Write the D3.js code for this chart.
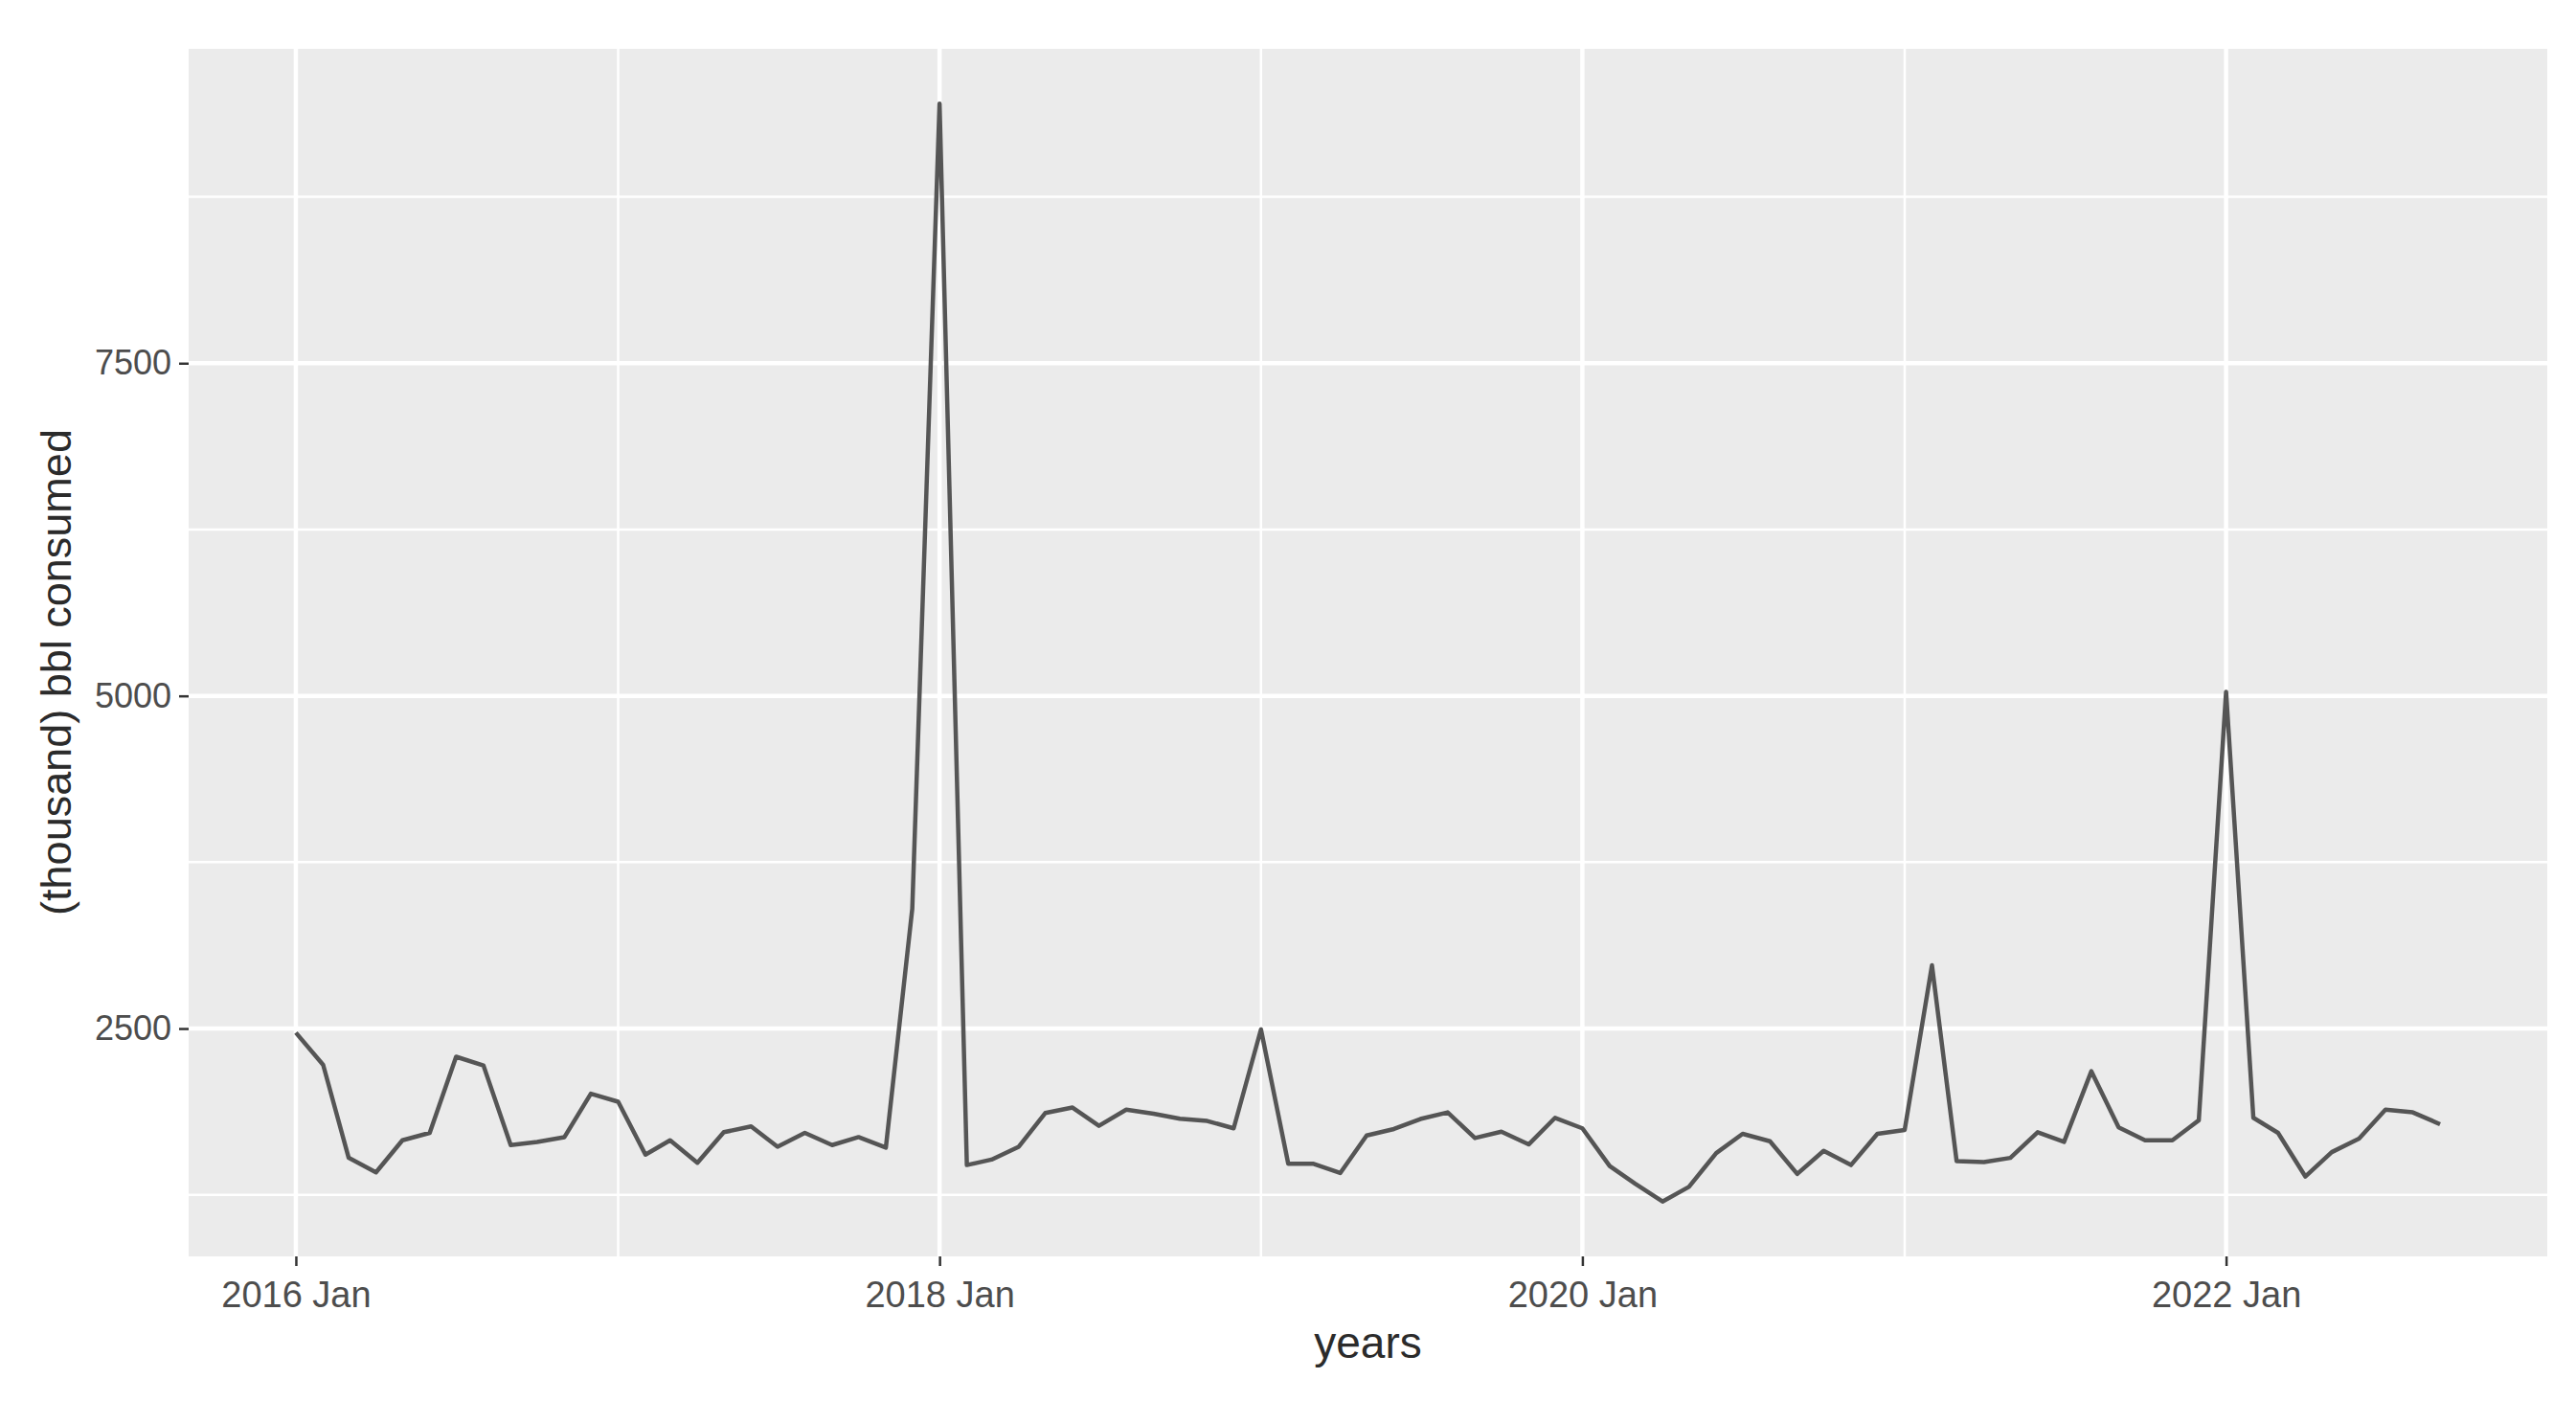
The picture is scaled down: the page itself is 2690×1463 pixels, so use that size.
<!DOCTYPE html>
<html lang="en">
<head>
<meta charset="utf-8">
<title>bbl consumed</title>
<script src="https://d3js.org/d3.v7.min.js"></script>
<style>
    body { margin: 0; background: #fff; }
    svg { display: block; }
    .tick text { font-family: "Liberation Sans", Arial, sans-serif; fill: #4d4d4d; }
    .tick line { stroke: #333; stroke-width: 2.5px; }
    .axis-title { font-family: "Liberation Sans", Arial, sans-serif; fill: #2b2b2b; }
</style>
</head>
<body>
<script>
    // monthly values (thousand bbl), Jan..Dec
    var years = [2016, 2017, 2018, 2019, 2020, 2021, 2022];
    var v2016 = [2469, 2227, 1528, 1419, 1660, 1716, 2288, 2223, 1624, 1648, 1684, 2010];
    var v2017 = [1950, 1552, 1660, 1491, 1721, 1764, 1612, 1716, 1624, 1684, 1605, 3400];
    var v2018 = [9450, 1474, 1515, 1612, 1865, 1906, 1769, 1890, 1860, 1822, 1805, 1750];
    var v2019 = [2493, 1484, 1484, 1414, 1696, 1745, 1820, 1870, 1677, 1725, 1629, 1829];
    var v2020 = [1750, 1467, 1334, 1200, 1310, 1564, 1709, 1653, 1407, 1581, 1474, 1709];
    var v2021 = [1738, 2975, 1503, 1496, 1528, 1721, 1648, 2179, 1757, 1660, 1660, 1810];
    var v2022 = [5030, 1829, 1716, 1388, 1571, 1672, 1890, 1870, 1781];

    var xTickYears = [2016, 2018, 2020, 2022];
    var xMinorYears = [2017, 2019, 2021];
    var yTicks = [2500, 5000, 7500];
    var yMinor = [1250, 3750, 6250, 8750];

    var perYear = [v2016, v2017, v2018, v2019, v2020, v2021, v2022];
    var data = [];
    perYear.forEach(function (vals, i) {
        vals.forEach(function (v, m) {
            data.push({ date: new Date(years[i], m, 1), value: v });
        });
    });

    var W = 2690, H = 1463;
    var panel = { left: 197, right: 2660, top: 51, bottom: 1312 };

    var svg = d3.select("body").append("svg")
        .attr("width", W)
        .attr("height", H);

    // ggplot-style 5% expansion
    var xExt = d3.extent(data, function (d) { return +d.date; });
    var xPad = (xExt[1] - xExt[0]) * 0.05;
    var x = d3.scaleTime()
        .domain([new Date(xExt[0] - xPad), new Date(xExt[1] + xPad)])
        .range([panel.left, panel.right]);

    var yExt = d3.extent(data, function (d) { return d.value; });
    var yPad = (yExt[1] - yExt[0]) * 0.05;
    var y = d3.scaleLinear()
        .domain([yExt[0] - yPad, yExt[1] + yPad])
        .range([panel.bottom, panel.top]);

    svg.append("rect")
        .attr("x", panel.left)
        .attr("y", panel.top)
        .attr("width", panel.right - panel.left)
        .attr("height", panel.bottom - panel.top)
        .attr("fill", "#ebebeb");

    var grid = svg.append("g");
    grid.selectAll(".ymin").data(yMinor).enter().append("line")
        .attr("x1", panel.left).attr("x2", panel.right)
        .attr("y1", d => y(d)).attr("y2", d => y(d))
        .attr("stroke", "#fff").attr("stroke-width", 2.5);
    grid.selectAll(".xmin").data(xMinorYears).enter().append("line")
        .attr("y1", panel.top).attr("y2", panel.bottom)
        .attr("x1", d => x(new Date(d, 0, 1))).attr("x2", d => x(new Date(d, 0, 1)))
        .attr("stroke", "#fff").attr("stroke-width", 2.5);
    grid.selectAll(".ymaj").data(yTicks).enter().append("line")
        .attr("x1", panel.left).attr("x2", panel.right)
        .attr("y1", d => y(d)).attr("y2", d => y(d))
        .attr("stroke", "#fff").attr("stroke-width", 4.5);
    grid.selectAll(".xmaj").data(xTickYears).enter().append("line")
        .attr("y1", panel.top).attr("y2", panel.bottom)
        .attr("x1", d => x(new Date(d, 0, 1))).attr("x2", d => x(new Date(d, 0, 1)))
        .attr("stroke", "#fff").attr("stroke-width", 4.5);

    var line = d3.line()
        .x(d => x(d.date))
        .y(d => y(d.value));

    svg.append("path")
        .datum(data)
        .attr("d", line)
        .attr("fill", "none")
        .attr("stroke", "#555")
        .attr("stroke-width", 4.5)
        .attr("stroke-linejoin", "round");

    var fmt = d3.timeFormat("%Y %b");
    var xAxis = svg.append("g")
        .attr("transform", "translate(0," + panel.bottom + ")")
        .call(d3.axisBottom(x)
            .tickValues(xTickYears.map(d => new Date(d, 0, 1)))
            .tickFormat(fmt)
            .tickSize(10)
            .tickPadding(16));
    xAxis.select(".domain").remove();
    xAxis.selectAll(".tick text").attr("font-size", 38);

    var yAxis = svg.append("g")
        .attr("transform", "translate(" + panel.left + ",0)")
        .call(d3.axisLeft(y)
            .tickValues(yTicks)
            .tickFormat(d3.format("d"))
            .tickSize(10)
            .tickPadding(8));
    yAxis.select(".domain").remove();
    yAxis.selectAll(".tick text").attr("font-size", 36);

    svg.append("text")
        .attr("class", "axis-title")
        .attr("x", (panel.left + panel.right) / 2)
        .attr("y", 1418)
        .attr("text-anchor", "middle")
        .attr("font-size", 46)
        .text("years");

    svg.append("text")
        .attr("class", "axis-title")
        .attr("transform", "translate(74,702) rotate(-90)")
        .attr("text-anchor", "middle")
        .attr("font-size", 45)
        .text("(thousand) bbl consumed");
</script>
</body>
</html>
